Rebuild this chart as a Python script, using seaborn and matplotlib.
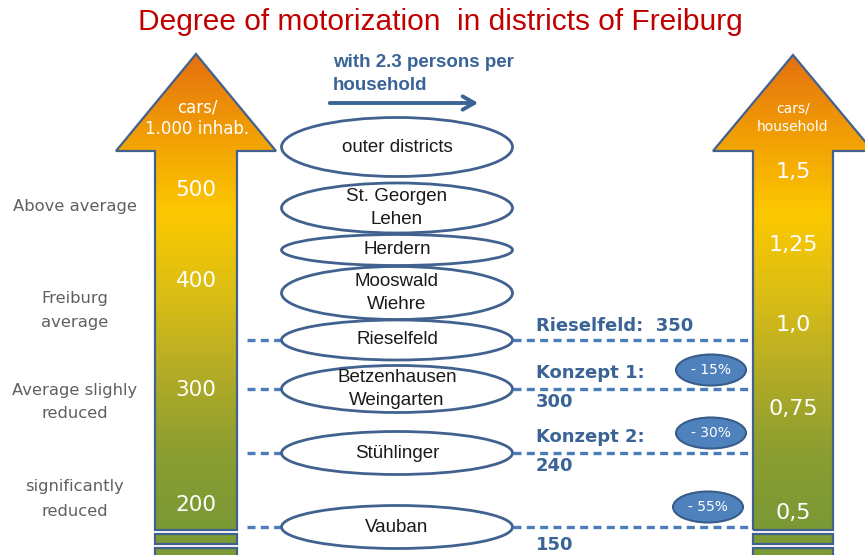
import numpy as np
import matplotlib
matplotlib.use("Agg")
import matplotlib.pyplot as plt
from matplotlib.patches import Polygon, Ellipse, Rectangle
import seaborn as sns

# ================= DATA =================
TITLE = "Degree of motorization  in districts of Freiburg"

DISTRICTS = ["outer districts", "St. Georgen\nLehen", "Herdern", "Mooswald\nWiehre",
             "Rieselfeld", "Betzenhausen\nWeingarten", "Stühlinger", "Vauban"]

INHAB_TICKS = ["500", "400", "300", "200"]
HOUSEHOLD_TICKS = ["1,5", "1,25", "1,0", "0,75", "0,5"]
LEVEL_LABELS = ["Above average", "Freiburg\naverage", "Average slighly\nreduced",
                "significantly\nreduced"]

SCENARIO_NAMES = ["Rieselfeld:", "Konzept 1:", "Konzept 2:", ""]
SCENARIO_CARS = [350, 300, 240, 150]
SCENARIO_CUT = ["", "- 15%", "- 30%", "- 55%"]
# =========================================

# ================= LAYOUT (pixels) =================
W, H = 865, 555
ELL_Y = [147, 208, 250, 293, 340, 389, 453, 527]
ELL_H = [59, 50, 31, 53, 40, 47, 43, 43]
ELL_X, ELL_W = 397, 231
INHAB_Y = [190, 281, 390, 505]
HOUSE_Y = [172, 245, 325, 409, 513]
LEVEL_Y = [206, 310, 402, 499]
LINE_ROWS = [4, 5, 6, 7]          # ellipses that get a dashed line
BADGE_POS = [None, (711, 370), (711, 433), (708, 507)]

BLUE_DARK = "#41628F"
BLUE_TEXT = "#3A6496"
BLUE_DASH = "#4A7EBB"
GREEN = "#7C9A36"

sns.set_theme(style="white")
plt.rcParams["font.family"] = ["DejaVu Sans"]

grad = sns.blend_palette(["#E5700F", "#F19E05", "#FCC800", "#DCBE14",
                          "#B4AC26", "#8C9E30", "#7A9936"], as_cmap=True)


def draw_arrow(ax, cx, tip_y, head_half, shaft_half, head_base=151, bottom=530):
    pts = [(cx - shaft_half, bottom), (cx - shaft_half, head_base),
           (cx - head_half, head_base), (cx, tip_y), (cx + head_half, head_base),
           (cx + shaft_half, head_base), (cx + shaft_half, bottom)]
    poly = Polygon(pts, closed=True, facecolor="none", edgecolor=BLUE_DARK, lw=1.6, zorder=3)
    ax.add_patch(poly)
    g = np.linspace(0, 1, 256).reshape(-1, 1)
    im = ax.imshow(g, cmap=grad, aspect="auto", origin="upper",
                   extent=(cx - head_half, cx + head_half, bottom, tip_y), zorder=2)
    im.set_clip_path(poly)
    for y0 in (534, 548):
        ax.add_patch(Rectangle((cx - shaft_half, y0), 2 * shaft_half, 10,
                               facecolor=GREEN, edgecolor=BLUE_DARK, lw=1.6, zorder=3))


fig = plt.figure(figsize=(W / 100, H / 100), dpi=100)
ax = fig.add_axes([0, 0, 1, 1])
ax.set_xlim(0, W)
ax.set_ylim(H, 0)
ax.axis("off")

ax.text(440, 22, TITLE, ha="center", va="center", color="#C00000", fontsize=21.5,
        family="Liberation Sans")

# arrows
draw_arrow(ax, 196, 54, 80, 41)
draw_arrow(ax, 793, 55, 80, 40)

ax.text(197, 118, "cars/\n1.000 inhab.", ha="center", va="center", color="white",
        fontsize=12, linespacing=1.25, zorder=4)
ax.text(793, 118, "cars/\nhousehold", ha="center", va="center", color="white",
        fontsize=10, linespacing=1.45, zorder=4)

for lab, y in zip(INHAB_TICKS, INHAB_Y):
    ax.text(196, y, lab, ha="center", va="center", color="white", fontsize=15.5, zorder=4)
for lab, y in zip(HOUSEHOLD_TICKS, HOUSE_Y):
    ax.text(793, y, lab, ha="center", va="center", color="white", fontsize=16, zorder=4)
for lab, y in zip(LEVEL_LABELS, LEVEL_Y):
    ax.text(75, y, lab, ha="center", va="center", color="#606060", fontsize=11.8,
            linespacing=1.75)

# household arrow
ax.text(333, 74, "with 2.3 persons per\nhousehold", ha="left", va="center",
        color=BLUE_TEXT, fontsize=13.5, fontweight="bold", family="Liberation Sans",
        linespacing=1.45)
ax.annotate("", xy=(481, 103), xytext=(327, 103),
            arrowprops=dict(arrowstyle="->,head_length=0.7,head_width=0.4",
                            color=BLUE_TEXT, lw=2.8))

# dashed connectors
for row in LINE_ROWS:
    y = ELL_Y[row]
    ax.plot([247, ELL_X - ELL_W / 2], [y, y], color=BLUE_DASH, lw=2.4,
            ls=(0, (2.4, 1.6)), zorder=1)
    ax.plot([ELL_X + ELL_W / 2, 753], [y, y], color=BLUE_DASH, lw=2.4,
            ls=(0, (2.4, 1.6)), zorder=1)

# district ellipses
for name, y, h in zip(DISTRICTS, ELL_Y, ELL_H):
    ax.add_patch(Ellipse((ELL_X, y), ELL_W, h, facecolor="white", edgecolor=BLUE_DARK,
                         lw=2, zorder=5))
    ax.text(ELL_X, y, name, ha="center", va="center", fontsize=13.5, color="#1A1A1A",
            family="Liberation Sans", linespacing=1.4, zorder=6)

# scenario labels
for i, (name, cars, cut) in enumerate(zip(SCENARIO_NAMES, SCENARIO_CARS, SCENARIO_CUT)):
    y = ELL_Y[LINE_ROWS[i]]
    if i == 0:
        ax.text(536, y - 14, f"{name}  {cars}", ha="left", va="center",
                color=BLUE_TEXT, fontsize=13, fontweight="semibold")
    elif name:
        ax.text(536, y - 16, name, ha="left", va="center", color=BLUE_TEXT,
                fontsize=13, fontweight="semibold")
        ax.text(536, y + 13, str(cars), ha="left", va="center", color=BLUE_TEXT,
                fontsize=13, fontweight="semibold")
    else:
        ax.text(536, y + 18, str(cars), ha="left", va="center", color=BLUE_TEXT,
                fontsize=13, fontweight="semibold")
    if cut:
        bx, by = BADGE_POS[i]
        ax.add_patch(Ellipse((bx, by), 70, 31, facecolor="#4F81BD", edgecolor="#385D8A",
                             lw=1.5, zorder=5))
        ax.text(bx, by, cut, ha="center", va="center", color="white", fontsize=10,
                zorder=6)

fig.savefig("out.png", dpi=100)
